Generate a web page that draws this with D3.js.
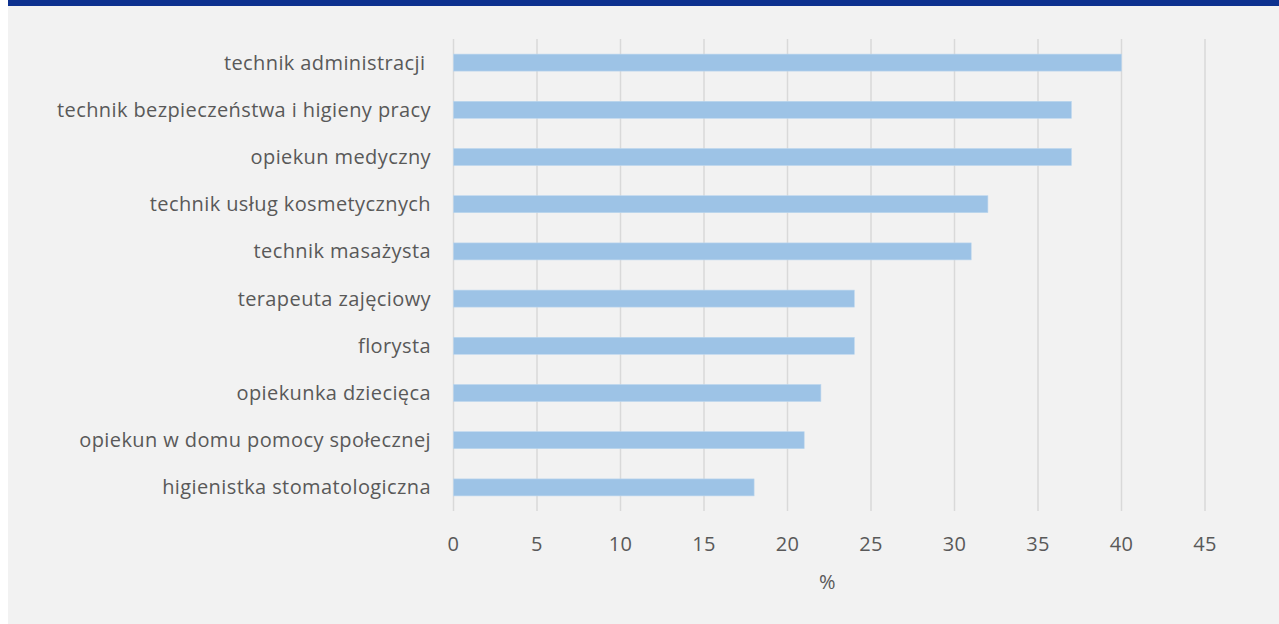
<!DOCTYPE html>
<html>
<head>
<meta charset="utf-8">
<script src="https://cdn.jsdelivr.net/npm/d3@7"></script>
<style>
  html, body { margin: 0; padding: 0; background: #ffffff; }
  svg { display: block; }
  text { font-family: "Open Sans", "Liberation Sans", sans-serif; fill: #595959; }
</style>
</head>
<body>
<svg id="chart" width="1279" height="624"></svg>
<script>
const categories = [
  "technik administracji ",
  "technik bezpieczeństwa i higieny pracy",
  "opiekun medyczny",
  "technik usług kosmetycznych",
  "technik masażysta",
  "terapeuta zajęciowy",
  "florysta",
  "opiekunka dziecięca",
  "opiekun w domu pomocy społecznej",
  "higienistka stomatologiczna"
];
const values = [40, 37, 37, 32, 31, 24, 24, 22, 21, 18];
const xTicks = [0, 5, 10, 15, 20, 25, 30, 35, 40, 45];
const xAxisTitle = "%";

const W = 1279, H = 624;
const svg = d3.select("#chart");

// panel background
svg.append("rect").attr("x", 8).attr("y", 0).attr("width", W - 8).attr("height", H).attr("fill", "#f2f2f2");
// header band
svg.append("rect").attr("x", 8).attr("y", 0).attr("width", W - 8).attr("height", 6).attr("fill", "#0d318f");

const x = d3.scaleLinear().domain([0, 45]).range([453.5, 1205]);
const y = d3.scaleBand().domain(categories).range([39, 511]).paddingInner(0.64).paddingOuter(0.32);

// gridlines
svg.append("g").selectAll("line").data(xTicks).join("line")
  .attr("x1", d => x(d)).attr("x2", d => x(d))
  .attr("y1", 39).attr("y2", 511)
  .attr("stroke", "#d9d9d9").attr("stroke-width", 1.5);

// bars
svg.append("g").selectAll("rect").data(values).join("rect")
  .attr("x", x(0))
  .attr("y", (d, i) => y(categories[i]))
  .attr("width", d => x(d) - x(0))
  .attr("height", y.bandwidth())
  .attr("fill", "#9dc3e6")
  .attr("stroke", "#bdd7ee").attr("stroke-width", 0.6);

const FS = 20, LS = 0.4;

// category labels
svg.append("g").selectAll("text").data(categories).join("text")
  .attr("x", 431)
  .attr("y", d => y(d) + y.bandwidth() / 2)
  .attr("dy", "0.35em")
  .attr("text-anchor", "end")
  .attr("font-size", FS)
  .attr("letter-spacing", LS)
  .attr("xml:space", "preserve")
  .style("white-space", "pre")
  .text(d => d);

// tick labels
svg.append("g").selectAll("text").data(xTicks).join("text")
  .attr("x", d => x(d))
  .attr("y", 551)
  .attr("text-anchor", "middle")
  .attr("font-size", FS)
  .attr("letter-spacing", LS)
  .text(d => d);

svg.append("text").attr("x", (x(0) + x(45)) / 2 - 2).attr("y", 589)
  .attr("text-anchor", "middle").attr("font-size", FS).text(xAxisTitle);
</script>
</body>
</html>
